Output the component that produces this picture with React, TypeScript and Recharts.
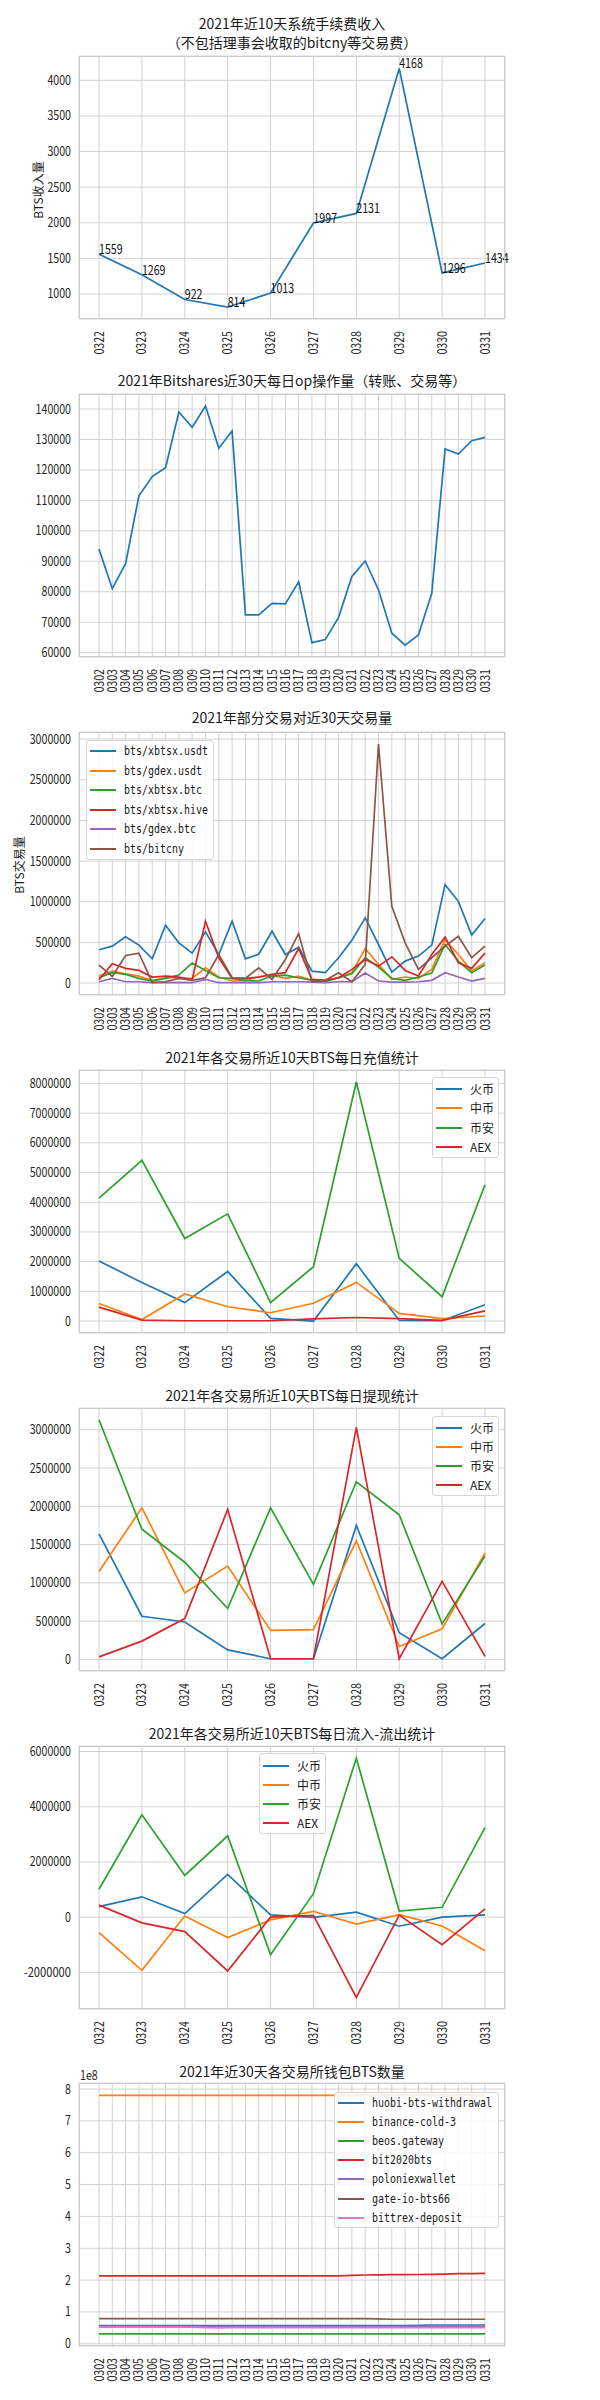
import React from 'react'
import { LineChart, Line, XAxis, YAxis, CartesianGrid, LabelList } from 'recharts'

const CJK = "'Noto Sans CJK SC', 'Noto Sans', sans-serif"
const MONO = "'DejaVu Sans Mono', 'Liberation Mono', monospace"
const CHAR_W = 5.9

const BLUE = '#1f77b4'
const ORANGE = '#ff7f0e'
const GREEN = '#2ca02c'
const RED = '#d62728'
const PURPLE = '#9467bd'
const BROWN = '#8c564b'
const PINK = '#e377c2'

const days10 = ['0322', '0323', '0324', '0325', '0326', '0327', '0328', '0329', '0330', '0331']
const days30 = [
  '0302', '0303', '0304', '0305', '0306', '0307', '0308', '0309', '0310', '0311',
  '0312', '0313', '0314', '0315', '0316', '0317', '0318', '0319', '0320', '0321',
  '0322', '0323', '0324', '0325', '0326', '0327', '0328', '0329', '0330', '0331',
]

// 手续费收入
const feeIncome = [1559, 1269, 922, 814, 1013, 1997, 2131, 4168, 1296, 1434]

// op 操作量
const opCount = [
  94000, 81000, 89300, 111500, 117800, 120700, 139000, 134000, 141000, 127100,
  132800, 72400, 72400, 76200, 76000, 83300, 63300, 64300, 71600, 85000,
  90100, 80600, 66400, 62500, 65800, 79500, 126900, 125200, 129600, 130700,
]

// 交易对交易量
const xbtsxUsdt = [
  409000, 454000, 568000, 466000, 298000, 711000, 494000, 368000, 629000, 350000,
  760000, 298000, 355000, 637000, 351000, 441000, 147000, 127000, 311000, 527000,
  801000, 474000, 135000, 270000, 331000, 466000, 1210000, 1005000, 589000, 793000,
]
const gdexUsdt = [
  86000, 147000, 114000, 86000, 33000, 65000, 65000, 57000, 188000, 74000,
  25000, 33000, 74000, 98000, 57000, 86000, 33000, 33000, 65000, 127000,
  425000, 229000, 45000, 74000, 57000, 168000, 535000, 351000, 147000, 249000,
]
const xbtsxBtc = [
  65000, 127000, 106000, 57000, 25000, 57000, 98000, 245000, 155000, 65000,
  57000, 33000, 25000, 86000, 98000, 65000, 33000, 16000, 65000, 114000,
  311000, 196000, 57000, 33000, 74000, 123000, 474000, 270000, 127000, 221000,
]
const xbtsxHive = [
  41000, 237000, 180000, 155000, 74000, 86000, 74000, 41000, 760000, 311000,
  57000, 57000, 74000, 106000, 127000, 425000, 45000, 33000, 65000, 168000,
  290000, 208000, 323000, 155000, 86000, 351000, 564000, 249000, 180000, 368000,
]
const gdexBtc = [
  16000, 57000, 16000, 16000, 4000, 4000, 8000, 4000, 45000, 4000,
  4000, 8000, 4000, 16000, 16000, 16000, 12000, 4000, 16000, 16000,
  123000, 25000, 12000, 12000, 16000, 33000, 127000, 74000, 25000, 57000,
]
const bitcny = [
  221000, 82000, 339000, 368000, 4000, 16000, 57000, 33000, 65000, 351000,
  65000, 57000, 188000, 45000, 290000, 609000, 16000, 33000, 127000, 16000,
  229000, 2938000, 944000, 494000, 168000, 311000, 454000, 576000, 311000, 454000,
]

// 充值
const depHuobi = [2020000, 1300000, 620000, 1670000, 90000, 0, 1930000, 20000, 10000, 550000]
const depZb = [590000, 50000, 910000, 480000, 280000, 600000, 1300000, 260000, 80000, 170000]
const depBinance = [4140000, 5410000, 2780000, 3610000, 620000, 1830000, 8050000, 2110000, 820000, 4590000]
const depAex = [470000, 30000, 10000, 10000, 10000, 70000, 120000, 80000, 20000, 340000]

// 提现
const wdHuobi = [1640000, 565000, 490000, 126000, 10000, 10000, 1750000, 350000, 10000, 470000]
const wdZb = [1150000, 1980000, 870000, 1220000, 380000, 390000, 1550000, 170000, 400000, 1390000]
const wdBinance = [3130000, 1700000, 1270000, 665000, 1980000, 980000, 2320000, 1890000, 465000, 1350000]
const wdAex = [35000, 240000, 535000, 1960000, 10000, 10000, 3030000, 10000, 1020000, 40000]

// 流入-流出
const netHuobi = [380000, 735000, 130000, 1544000, 80000, -10000, 180000, -330000, 0, 80000]
const netZb = [-560000, -1930000, 40000, -740000, -100000, 210000, -250000, 90000, -320000, -1220000]
const netBinance = [1010000, 3710000, 1510000, 2945000, -1360000, 850000, 5760000, 220000, 355000, 3240000]
const netAex = [435000, -210000, -525000, -1950000, 0, 60000, -2910000, 70000, -1000000, 300000]

// 钱包 BTS 数量
const huobiWithdrawal = [
  57e6, 57e6, 57e6, 57e6, 57e6, 57e6, 57e6, 57e6, 57e6, 57e6,
  57e6, 57e6, 57e6, 57e6, 57e6, 57e6, 57e6, 57e6, 57e6, 57e6,
  57e6, 57e6, 57e6, 57e6, 58e6, 59e6, 59e6, 59e6, 59e6, 59e6,
]
const binanceCold = [
  780e6, 780e6, 780e6, 780e6, 780e6, 780e6, 780e6, 780e6, 780e6, 780e6,
  780e6, 780e6, 780e6, 780e6, 780e6, 780e6, 780e6, 780e6, 780e6, 780e6,
  780e6, 780e6, 780e6, 780e6, 780e6, 780e6, 780e6, 780e6, 780e6, 780e6,
]
const beosGateway = [
  31e6, 31e6, 31e6, 31e6, 31e6, 31e6, 31e6, 31e6, 31e6, 31e6,
  31e6, 31e6, 31e6, 31e6, 31e6, 31e6, 31e6, 31e6, 31e6, 31e6,
  31e6, 31e6, 31e6, 31e6, 31e6, 31e6, 31e6, 31e6, 31e6, 31e6,
]
const bit2020 = [
  213e6, 213e6, 213e6, 213e6, 213e6, 213e6, 213e6, 213e6, 213e6, 213e6,
  213e6, 213e6, 213e6, 213e6, 213e6, 213e6, 213e6, 213e6, 213e6, 215e6,
  216e6, 216.5e6, 217e6, 217e6, 217.5e6, 218e6, 219e6, 220e6, 220.5e6, 221e6,
]
const poloniex = [
  55e6, 55e6, 55e6, 55e6, 55e6, 55e6, 55e6, 55e6, 55e6, 55e6,
  55e6, 55e6, 55e6, 55e6, 55e6, 55e6, 55e6, 55e6, 55e6, 55e6,
  55e6, 55e6, 55e6, 55e6, 55e6, 55e6, 55e6, 55e6, 55e6, 55e6,
]
const gateIo = [
  79e6, 79e6, 79e6, 79e6, 79e6, 79e6, 79e6, 79e6, 79e6, 79e6,
  79e6, 79e6, 79e6, 79e6, 79e6, 79e6, 79e6, 79e6, 79e6, 79e6,
  79e6, 78.5e6, 77e6, 77e6, 77e6, 77e6, 77e6, 77e6, 77e6, 77e6,
]
const bittrex = [
  52e6, 52e6, 52e6, 52e6, 52e6, 52e6, 52e6, 52e6, 51e6, 50e6,
  51e6, 51e6, 51e6, 51e6, 51e6, 51e6, 51e6, 51e6, 51e6, 51e6,
  51e6, 51e6, 51e6, 51e6, 51e6, 51e6, 51e6, 51e6, 51e6, 51e6,
]

type Series = { name: string; color: string; values: number[] }

const PLOT_H = 263
const PAD_T = 8
const AXIS_H = 52

// narrow digits, like the half-width glyphs of the original font
function NarrowText(props: any) {
  const { text, ...rest } = props
  return (
    <text
      fontSize={13}
      fontFamily={CJK}
      fill="#262626"
      textLength={text.length * CHAR_W}
      lengthAdjust="spacingAndGlyphs"
      {...rest}
    >
      {text}
    </text>
  )
}

function DayTick(props: any) {
  const { x, y, payload } = props
  return (
    <NarrowText
      transform={`translate(${x},${y}) rotate(-90)`}
      textAnchor="end"
      dy="0.35em"
      text={String(payload.value)}
    />
  )
}

function NumTick(props: any) {
  const { x, y, payload, fmt } = props
  const s = fmt ? fmt(payload.value) : String(payload.value)
  return <NarrowText x={x} y={y} textAnchor="end" dy="0.35em" text={s} />
}

function ValueLabel(props: any) {
  const { x, y, value } = props
  return <NarrowText x={x} y={y} fill="#111" text={String(value)} />
}

type PanelProps = {
  plotTop: number
  days: string[]
  series: Series[]
  domain: [number, number]
  ticks: number[]
  fmt?: (v: number) => string
  labels?: boolean
}

function Panel({ plotTop, days, series, domain, ticks, fmt, labels }: PanelProps) {
  const rows = days.map((d, i) => {
    const r: Record<string, string | number> = { day: d }
    series.forEach((s, j) => {
      r['k' + j] = s.values[i]
    })
    return r
  })
  const h = PLOT_H + PAD_T + AXIS_H
  return (
    <div style={{ position: 'absolute', left: 0, top: plotTop - PAD_T, width: 600, height: h }}>
      <LineChart width={600} height={h} data={rows} margin={{ top: PAD_T, right: 95, bottom: 0, left: 0 }}>
        <CartesianGrid stroke="#d2d2d2" strokeWidth={1} />
        <XAxis
          dataKey="day"
          interval={0}
          tickLine={false}
          axisLine={false}
          tickSize={0}
          tickMargin={12}
          height={AXIS_H}
          padding={{ left: 20, right: 20 }}
          tick={<DayTick />}
        />
        <YAxis
          type="number"
          domain={domain}
          ticks={ticks}
          allowDataOverflow
          tickLine={false}
          axisLine={false}
          tickSize={0}
          tickMargin={8}
          width={79}
          tick={<NumTick fmt={fmt} />}
        />
        {series.map((s, j) => (
          <Line
            key={s.name}
            type="linear"
            dataKey={'k' + j}
            stroke={s.color}
            strokeWidth={1.7}
            dot={false}
            isAnimationActive={false}
          >
            {labels && <LabelList dataKey={'k' + j} content={ValueLabel} />}
          </Line>
        ))}
      </LineChart>
      <div
        style={{
          position: 'absolute',
          left: 79,
          top: PAD_T,
          width: 426,
          height: PLOT_H,
          border: '1px solid #cccccc',
          boxSizing: 'border-box',
          pointerEvents: 'none',
        }}
      />
    </div>
  )
}

type LegendProps = {
  series: Series[]
  left: number
  top: number
  width: number
  height: number
  first: number
  step: number
  mono?: boolean
}

function LegendBox({ series, left, top, width, height, first, step, mono }: LegendProps) {
  return (
    <div
      style={{
        position: 'absolute',
        left,
        top,
        width,
        height,
        background: 'rgba(255,255,255,0.85)',
        border: '1px solid #d6d6d6',
        borderRadius: 3,
        boxSizing: 'border-box',
      }}
    >
      {series.map((s, i) => (
        <div key={s.name} style={{ position: 'absolute', left: 0, top: first + i * step - 9, height: 18, width: width }}>
          <span style={{ position: 'absolute', left: 3, top: 8, width: 26, height: 2, background: s.color }} />
          <span
            style={{
              position: 'absolute',
              left: 37,
              top: 0,
              lineHeight: '18px',
              fontSize: 12,
              whiteSpace: 'nowrap',
              color: '#1a1a1a',
              fontFamily: mono ? MONO : CJK,
              transform: mono ? 'scaleX(0.83)' : undefined,
              transformOrigin: 'left center',
            }}
          >
            {s.name}
          </span>
        </div>
      ))}
    </div>
  )
}

function Title({ top, text }: { top: number; text: string }) {
  return (
    <div
      style={{
        position: 'absolute',
        left: 40,
        width: 504,
        top: top - 10,
        lineHeight: '20px',
        textAlign: 'center',
        fontSize: 14,
        fontFamily: CJK,
        color: '#1a1a1a',
        whiteSpace: 'nowrap',
      }}
    >
      {text}
    </div>
  )
}

function YTitle({ x, y, text }: { x: number; y: number; text: string }) {
  return (
    <div
      style={{
        position: 'absolute',
        left: x,
        top: y,
        transform: 'translate(-50%, -50%) rotate(-90deg)',
        fontSize: 12,
        fontFamily: CJK,
        color: '#1a1a1a',
        whiteSpace: 'nowrap',
      }}
    >
      {text}
    </div>
  )
}

const feeSeries: Series[] = [{ name: 'fee', color: BLUE, values: feeIncome }]
const opSeries: Series[] = [{ name: 'op', color: BLUE, values: opCount }]
const pairSeries: Series[] = [
  { name: 'bts/xbtsx.usdt', color: BLUE, values: xbtsxUsdt },
  { name: 'bts/gdex.usdt', color: ORANGE, values: gdexUsdt },
  { name: 'bts/xbtsx.btc', color: GREEN, values: xbtsxBtc },
  { name: 'bts/xbtsx.hive', color: RED, values: xbtsxHive },
  { name: 'bts/gdex.btc', color: PURPLE, values: gdexBtc },
  { name: 'bts/bitcny', color: BROWN, values: bitcny },
]
const depSeries: Series[] = [
  { name: '火币', color: BLUE, values: depHuobi },
  { name: '中币', color: ORANGE, values: depZb },
  { name: '币安', color: GREEN, values: depBinance },
  { name: 'AEX', color: RED, values: depAex },
]
const wdSeries: Series[] = [
  { name: '火币', color: BLUE, values: wdHuobi },
  { name: '中币', color: ORANGE, values: wdZb },
  { name: '币安', color: GREEN, values: wdBinance },
  { name: 'AEX', color: RED, values: wdAex },
]
const netSeries: Series[] = [
  { name: '火币', color: BLUE, values: netHuobi },
  { name: '中币', color: ORANGE, values: netZb },
  { name: '币安', color: GREEN, values: netBinance },
  { name: 'AEX', color: RED, values: netAex },
]
const walletSeries: Series[] = [
  { name: 'huobi-bts-withdrawal', color: BLUE, values: huobiWithdrawal },
  { name: 'binance-cold-3', color: ORANGE, values: binanceCold },
  { name: 'beos.gateway', color: GREEN, values: beosGateway },
  { name: 'bit2020bts', color: RED, values: bit2020 },
  { name: 'poloniexwallet', color: PURPLE, values: poloniex },
  { name: 'gate-io-bts66', color: BROWN, values: gateIo },
  { name: 'bittrex-deposit', color: PINK, values: bittrex },
]

export default function App() {
  return (
    <div style={{ position: 'absolute', left: 0, top: 0, width: 600, height: 2400, background: '#fff' }}>
      <Title top={23} text="2021年近10天系统手续费收入" />
      <Title top={42} text="（不包括理事会收取的bitcny等交易费）" />
      <YTitle x={37} y={190} text="BTS收入量" />
      <Panel
        plotTop={56}
        days={days10}
        series={feeSeries}
        domain={[648, 4342]}
        ticks={[1000, 1500, 2000, 2500, 3000, 3500, 4000]}
        labels
      />

      <Title top={380} text="2021年Bitshares近30天每日op操作量（转账、交易等）" />
      <Panel
        plotTop={394}
        days={days30}
        series={opSeries}
        domain={[58580, 144925]}
        ticks={[60000, 70000, 80000, 90000, 100000, 110000, 120000, 130000, 140000]}
      />

      <Title top={717} text="2021年部分交易对近30天交易量" />
      <YTitle x={18} y={865} text="BTS交易量" />
      <Panel
        plotTop={732}
        days={days30}
        series={pairSeries}
        domain={[-147000, 3087000]}
        ticks={[0, 500000, 1000000, 1500000, 2000000, 2500000, 3000000]}
      />
      <LegendBox series={pairSeries} left={86} top={740} width={128} height={120} first={10} step={19.6} mono />

      <Title top={1057} text="2021年各交易所近10天BTS每日充值统计" />
      <Panel
        plotTop={1070}
        days={days10}
        series={depSeries}
        domain={[-402500, 8452500]}
        ticks={[0, 1000000, 2000000, 3000000, 4000000, 5000000, 6000000, 7000000, 8000000]}
      />
      <LegendBox series={depSeries} left={432} top={1077} width={67} height={81} first={11} step={19.3} />

      <Title top={1395} text="2021年各交易所近10天BTS每日提现统计" />
      <Panel
        plotTop={1408}
        days={days10}
        series={wdSeries}
        domain={[-150000, 3283000]}
        ticks={[0, 500000, 1000000, 1500000, 2000000, 2500000, 3000000]}
      />
      <LegendBox series={wdSeries} left={432} top={1416} width={67} height={80} first={11} step={19.1} />

      <Title top={1733} text="2021年各交易所近10天BTS每日流入-流出统计" />
      <Panel
        plotTop={1746}
        days={days10}
        series={netSeries}
        domain={[-3330000, 6200000]}
        ticks={[-2000000, 0, 2000000, 4000000, 6000000]}
      />
      <LegendBox series={netSeries} left={259} top={1753} width={67} height={81} first={12} step={19} />

      <Title top={2071} text="2021年近30天各交易所钱包BTS数量" />
      <svg style={{ position: 'absolute', left: 0, top: 2060, width: 120, height: 30 }}>
        <NarrowText x={80} y={20} text="1e8" />
      </svg>
      <Panel
        plotTop={2083}
        days={days30}
        series={walletSeries}
        domain={[-7e6, 819e6]}
        ticks={[0, 1e8, 2e8, 3e8, 4e8, 5e8, 6e8, 7e8, 8e8]}
        fmt={(v: number) => String(Math.round(v / 1e8))}
      />
      <LegendBox series={walletSeries} left={334} top={2092} width={165} height={136} first={10} step={19.1} mono />
    </div>
  )
}
